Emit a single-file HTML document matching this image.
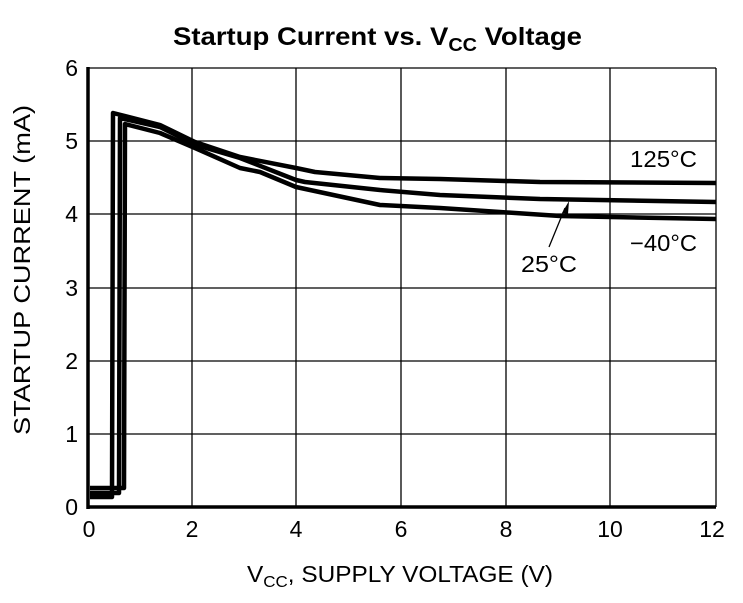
<!DOCTYPE html>
<html><head><style>
body{margin:0;background:#fff;}
svg text{font-family:"Liberation Sans",Arial,sans-serif;}
</style></head><body>
<svg width="743" height="598" viewBox="0 0 743 598" xmlns="http://www.w3.org/2000/svg">
<rect width="743" height="598" fill="#fff"/>
<text x="173" y="45" font-size="25" font-weight="bold" textLength="409" lengthAdjust="spacingAndGlyphs">Startup Current vs. V<tspan font-size="18" dy="6">CC</tspan><tspan dy="-6"> Voltage</tspan></text>
<g stroke="#000" stroke-width="1.3">
<line x1="192" y1="68" x2="192" y2="507"/><line x1="296" y1="68" x2="296" y2="507"/>
<line x1="401" y1="68" x2="401" y2="507"/><line x1="506" y1="68" x2="506" y2="507"/>
<line x1="610" y1="68" x2="610" y2="507"/><line x1="716" y1="68" x2="716" y2="507"/>
<line x1="88" y1="68" x2="716" y2="68"/><line x1="88" y1="141" x2="716" y2="141"/>
<line x1="88" y1="214" x2="716" y2="214"/><line x1="88" y1="288" x2="716" y2="288"/>
<line x1="88" y1="361" x2="716" y2="361"/><line x1="88" y1="434" x2="716" y2="434"/>
</g>
<line x1="88" y1="67" x2="88" y2="509" stroke="#000" stroke-width="3.5"/>
<line x1="87" y1="507" x2="716" y2="507" stroke="#000" stroke-width="3.5"/>
<g fill="none" stroke="#000" stroke-width="4.5" stroke-linejoin="round">
<polyline points="90,497 112,497 113,113 160,125 195,142 240,157 296,168 315,172 380,178 440,179 540,182 716,183"/>
<polyline points="90,493 119,493 120,118 160,127 196,145 240,158 296,180 305,182 380,190 440,195 540,199 716,202"/>
<polyline points="90,488 124,488 125,124 160,133 195,148 240,168 260,172 296,187 380,205 440,208 500,212 560,216 716,219"/>
</g>
<line x1="549" y1="247" x2="565" y2="208" stroke="#000" stroke-width="1.3"/>
<polygon points="562,213 569,201 568,214" fill="#000"/>
<g font-size="23" text-anchor="middle">
<text x="89" y="537">0</text><text x="192" y="537">2</text><text x="296" y="537">4</text>
<text x="401" y="537">6</text><text x="506" y="537">8</text><text x="610" y="537">10</text><text x="712" y="537">12</text>
</g>
<g font-size="23" text-anchor="end">
<text x="78" y="76">6</text><text x="78" y="149">5</text><text x="78" y="222">4</text>
<text x="78" y="296">3</text><text x="78" y="369">2</text><text x="78" y="442">1</text><text x="78" y="515">0</text>
</g>
<text x="630" y="167" font-size="23" textLength="67" lengthAdjust="spacingAndGlyphs">125°C</text>
<text x="630" y="251" font-size="23" textLength="67" lengthAdjust="spacingAndGlyphs">−40°C</text>
<text x="521" y="272" font-size="23" textLength="56" lengthAdjust="spacingAndGlyphs">25°C</text>
<text x="247" y="582" font-size="23" textLength="306" lengthAdjust="spacingAndGlyphs">V<tspan font-size="16" dy="5">CC</tspan><tspan dy="-5">, SUPPLY VOLTAGE (V)</tspan></text>
<text transform="translate(30,270) rotate(-90)" font-size="23" text-anchor="middle" textLength="330" lengthAdjust="spacingAndGlyphs">STARTUP CURRENT (mA)</text>
</svg>
</body></html>
